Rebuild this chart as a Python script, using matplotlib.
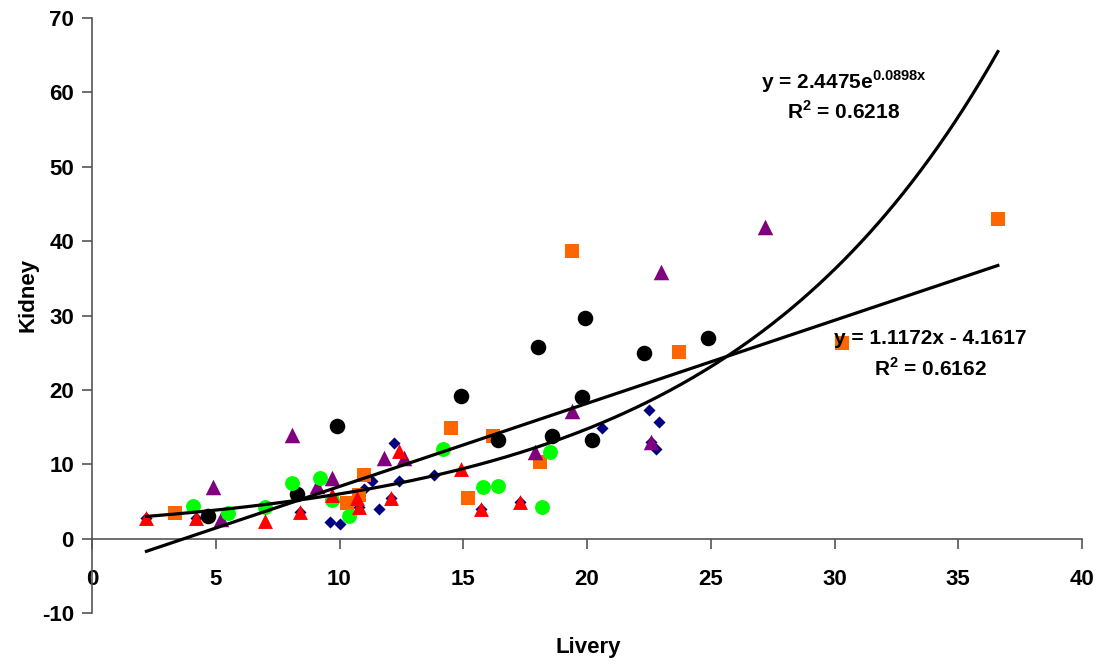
import numpy as np
import matplotlib
matplotlib.use("Agg")
import matplotlib.pyplot as plt

plt.rcParams['font.family'] = ['Liberation Sans', 'DejaVu Sans']
plt.rcParams['font.weight'] = 'bold'
plt.rcParams['mathtext.fontset'] = 'custom'
plt.rcParams['mathtext.rm'] = 'Liberation Sans:bold'
plt.rcParams['mathtext.bf'] = 'Liberation Sans:bold'

# Data (Livery, Kidney) per series
navy_x = [2.2, 4.2, 8.4, 9.6, 10.0, 10.8, 11.0, 11.3, 11.6, 12.1, 12.2, 12.4, 13.8, 15.7, 17.3, 20.6, 22.5, 22.9, 22.8, 22.6]
navy_y = [2.8, 2.8, 3.6, 2.2, 2.0, 4.3, 6.7, 7.8, 4.0, 5.5, 12.9, 7.7, 8.5, 4.0, 4.9, 14.9, 17.3, 15.7, 12.0, 13.0]

orange_x = [3.35, 10.3, 10.8, 11.0, 14.5, 15.2, 16.2, 18.1, 19.4, 23.7, 30.3, 36.6]
orange_y = [3.5, 4.8, 5.8, 8.5, 14.9, 5.5, 13.8, 10.3, 38.7, 25.1, 26.3, 43.0]

purple_x = [4.9, 5.2, 8.1, 9.1, 9.7, 11.8, 12.6, 17.9, 19.4, 22.6, 23.0, 27.2]
purple_y = [7.0, 2.7, 13.9, 7.1, 8.1, 10.9, 10.8, 11.6, 17.1, 13.0, 35.8, 41.9]

black_x = [4.7, 8.3, 9.9, 14.9, 16.4, 18.0, 18.6, 19.8, 19.9, 20.2, 22.3, 24.9]
black_y = [3.1, 6.0, 15.1, 19.2, 13.3, 25.8, 13.8, 19.1, 29.6, 13.2, 25.0, 27.0]

green_x = [4.1, 5.5, 7.0, 8.1, 9.2, 9.7, 10.4, 14.2, 15.8, 16.4, 18.5, 18.2]
green_y = [4.4, 3.5, 4.2, 7.5, 8.1, 5.2, 3.0, 12.0, 6.9, 7.1, 11.7, 4.2]

red_x = [2.2, 4.2, 7.0, 8.4, 9.7, 10.7, 10.8, 12.1, 12.4, 14.9, 15.7, 17.3]
red_y = [2.8, 2.8, 2.4, 3.6, 5.8, 5.5, 4.3, 5.5, 11.8, 9.3, 4.0, 4.9]

# Trendline coefficients (as printed on the chart)
lin_slope, lin_icpt = 1.1172, -4.1617
exp_a, exp_b = 2.4475, 0.0898
fit_range = [2.2, 36.6]

x_ticks = [0, 5, 10, 15, 20, 25, 30, 35, 40]
y_ticks = [-10, 0, 10, 20, 30, 40, 50, 60, 70]

fig = plt.figure(figsize=(11.02, 6.65), dpi=100)
ax = fig.add_axes([92/1102, 1-613/665, 990/1102, 595/665])

ax.scatter(navy_x, navy_y, marker='D', s=38, color='#000080', zorder=3, linewidths=0)
ax.scatter(orange_x, orange_y, marker='s', s=115, color='#FF6600', zorder=3, linewidths=0)
ax.scatter(purple_x, purple_y, marker='^', s=125, color='#800080', zorder=3, linewidths=0)
ax.scatter(black_x, black_y, marker='o', s=125, color='#000000', zorder=3, linewidths=0)
ax.scatter(green_x, green_y, marker='o', s=115, color='#00FF00', zorder=3, linewidths=0)
ax.scatter(red_x, red_y, marker='^', s=115, color='#FF0000', zorder=3, linewidths=0)

xf = np.linspace(fit_range[0], fit_range[1], 300)
ax.plot(xf, lin_slope * xf + lin_icpt, color='black', lw=2.3, zorder=4)
ax.plot(xf, exp_a * np.exp(exp_b * xf), color='black', lw=2.3, zorder=4)

eq_fs = 15
fig.text(844/1102, 1 - 82/665, r'y = 2.4475e$^{\mathbf{0.0898x}}$', fontsize=eq_fs,
         fontweight='bold', ha='center', va='center', zorder=5)
fig.text(844/1102, 1 - 112/665, r'R$^{\mathbf{2}}$ = 0.6218', fontsize=eq_fs,
         fontweight='bold', ha='center', va='center', zorder=5)
fig.text(930/1102, 1 - 339/665, 'y = 1.1172x - 4.1617', fontsize=eq_fs,
         fontweight='bold', ha='center', va='center', zorder=5)
fig.text(930/1102, 1 - 368/665, r'R$^{\mathbf{2}}$ = 0.6162', fontsize=eq_fs,
         fontweight='bold', ha='center', va='center', zorder=5)

ax.set_xlim(0, 40)
ax.set_ylim(-10, 70)
ax.set_xticks(x_ticks)
ax.set_yticks(y_ticks)
ax.set_xticklabels([str(v) for v in x_ticks])
ax.set_yticklabels([str(v) for v in y_ticks])
ax.spines['top'].set_visible(False)
ax.spines['right'].set_visible(False)
ax.spines['bottom'].set_position(('data', 0))
for s in ['left', 'bottom']:
    ax.spines[s].set_color('#555555')
    ax.spines[s].set_linewidth(1.2)
ax.tick_params(axis='both', direction='out', length=7, width=1.2, color='#555555',
               labelsize=16)
ax.tick_params(axis='x', pad=15)
ax.tick_params(axis='y', pad=6)
for lab in ax.get_xticklabels() + ax.get_yticklabels():
    lab.set_fontweight('bold')

fig.text(28/1102, 1 - 295/665, 'Kidney', rotation=90, fontsize=16, fontweight='bold',
         ha='center', va='center')
fig.text(588/1102, 1 - 648/665, 'Livery', fontsize=16, fontweight='bold',
         ha='center', va='center')

fig.savefig('out.png', dpi=100)
